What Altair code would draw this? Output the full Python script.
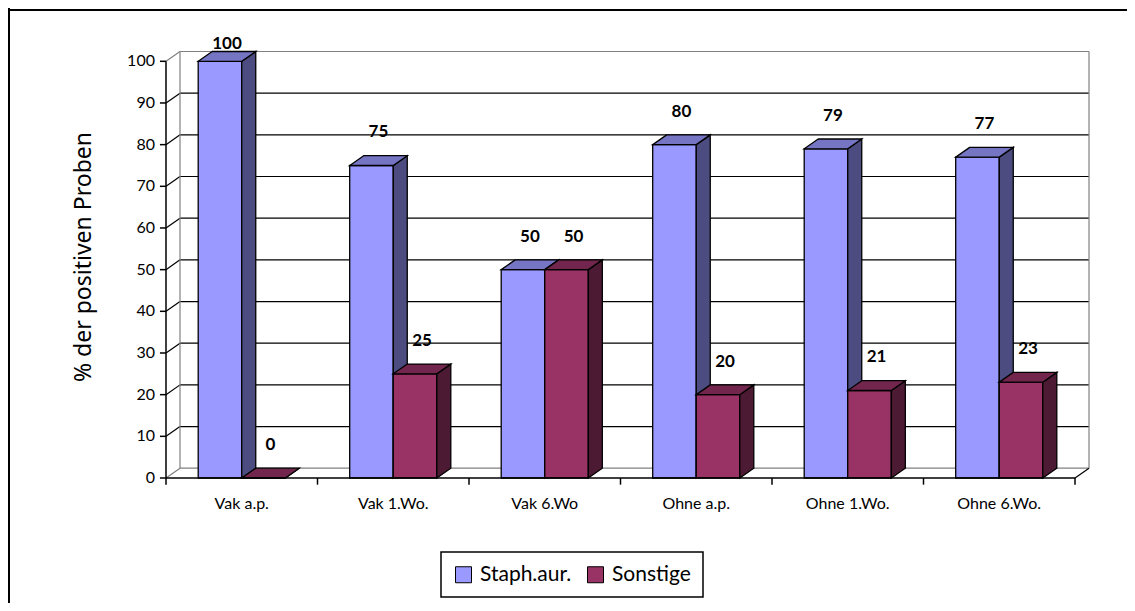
import altair as alt
import pandas as pd

# ---------------- data ----------------
categories = ["Vak a.p.", "Vak 1.Wo.", "Vak 6.Wo", "Ohne a.p.", "Ohne 1.Wo.", "Ohne 6.Wo."]
series = ["Staph.aur.", "Sonstige"]
staph = [100, 75, 50, 80, 79, 77]
sonstige = [0, 25, 50, 20, 21, 23]
y_ticks = [0, 10, 20, 30, 40, 50, 60, 70, 80, 90, 100]
y_title = "% der positiven Proben"

# ---------------- geometry (in data units) ----------------
GAP = 0.2125      # gap at left of a category
BW = 0.2875       # bar width
DX = 0.0924       # 3D depth, x units
DY = 2.35         # 3D depth, y units
NC = len(categories)
FONT = "Lato"

front_colors = ["#9999FF", "#993366"]
top_colors = ["#7575C4", "#73264D"]
side_colors = ["#4C4C80", "#4D1A33"]

bars, sides, tops, labels = [], [], [], []
for s_i, (sname, vals) in enumerate([(series[0], staph), (series[1], sonstige)]):
    for i, v in enumerate(vals):
        xl = i + GAP + s_i * BW
        xr = xl + BW
        bid = f"{s_i}-{i}"
        bars.append(dict(series=sname, s=s_i, xl=xl, xr=xr, v=v, y0=0))
        sides.append(dict(bid=bid, s=s_i, x=xr, y=v, y2=0))
        sides.append(dict(bid=bid, s=s_i, x=xr + DX, y=v + DY, y2=DY))
        tops.append(dict(bid=bid, s=s_i, y=v, x=xl, x2=xr))
        tops.append(dict(bid=bid, s=s_i, y=v + DY, x=xl + DX, x2=xr + DX))
        labels.append(dict(s=s_i, x=(xl + xr) / 2 + DX / 2, y=min(v, 96.3), t=str(v)))

bars = pd.DataFrame(bars)
sides = pd.DataFrame(sides)
tops = pd.DataFrame(tops)
labels = pd.DataFrame(labels)

grid = pd.DataFrame(dict(
    x=[DX] * len(y_ticks), x2=[NC + DX] * len(y_ticks),
    y=[t + DY for t in y_ticks],
    c=["edge" if t in (0, 100) else "line" for t in y_ticks]))
diag = pd.DataFrame(dict(
    x=[0] * len(y_ticks), x2=[DX] * len(y_ticks),
    y=y_ticks, y2=[t + DY for t in y_ticks],
    c=["edge" if t in (0, 100) else "line" for t in y_ticks]))
walls = pd.DataFrame(dict(x=[DX, NC + DX], y=[DY, DY], y2=[100 + DY, 100 + DY]))
floor_diag = pd.DataFrame(dict(x=[NC], x2=[NC + DX], y=[0], y2=[DY]))
yaxis = pd.DataFrame(dict(x=[0], y=[0], y2=[100]))
xaxis = pd.DataFrame(dict(x=[0], x2=[NC], y=[0]))
yticks_df = pd.DataFrame(dict(x=[-0.04] * len(y_ticks), x2=[0] * len(y_ticks),
                              y=y_ticks, t=[str(t) for t in y_ticks]))
xticks_df = pd.DataFrame(dict(x=list(range(NC + 1)), y=[-1.6] * (NC + 1), y2=[0] * (NC + 1)))
cats_df = pd.DataFrame(dict(x=[i + 0.5 for i in range(NC)], y=[0] * NC, t=categories))
one = pd.DataFrame(dict(t=[y_title]))

# ---------------- scales ----------------
XS = alt.Scale(domain=[0, NC], range=[158, 1067], nice=False, zero=False)
YS = alt.Scale(domain=[0, 100], range=[470, 53.3], nice=False, zero=False)


def X(f="x"):
    return alt.X(f"{f}:Q", scale=XS, axis=None, stack=None)


def Y(f="y"):
    return alt.Y(f"{f}:Q", scale=YS, axis=None, stack=None)


line_color = alt.Color("c:N", scale=alt.Scale(domain=["line", "edge"], range=["#000000", "#808080"]), legend=None)

layers = []
layers.append(alt.Chart(grid).mark_rule(strokeWidth=1.2).encode(x=X(), x2="x2:Q", y=Y(), color=line_color))
layers.append(alt.Chart(diag).mark_rule(strokeWidth=1.2).encode(x=X(), x2="x2:Q", y=Y(), y2="y2:Q", color=line_color))
layers.append(alt.Chart(walls).mark_rule(strokeWidth=1.2, color="#808080").encode(x=X(), y=Y(), y2="y2:Q"))
layers.append(alt.Chart(floor_diag).mark_rule(strokeWidth=1.2, color="#000000").encode(x=X(), x2="x2:Q", y=Y(), y2="y2:Q"))

fill_enc = alt.Fill("series:N", scale=alt.Scale(domain=series, range=front_colors),
                    legend=alt.Legend(title=None, orient="none", direction="horizontal",
                                      legendX=433, legendY=544))

for s_i in range(2):
    layers.append(alt.Chart(bars[bars.s == s_i]).mark_rect(stroke="black", strokeWidth=1.3).encode(
        x=X("xl"), x2="xr:Q", y=Y("v"), y2="y0:Q", fill=fill_enc))
    layers.append(alt.Chart(sides[sides.s == s_i]).mark_area(
        color=side_colors[s_i], stroke="black", strokeWidth=1.3, orient="vertical").encode(
        x=X(), y=Y(), y2="y2:Q", detail="bid:N"))
    layers.append(alt.Chart(tops[tops.s == s_i]).mark_area(
        color=top_colors[s_i], stroke="black", strokeWidth=1.3, orient="horizontal").encode(
        y=Y(), x=X(), x2="x2:Q", detail="bid:N"))

layers.append(alt.Chart(xaxis).mark_rule(strokeWidth=1.5, color="black").encode(x=X(), x2="x2:Q", y=Y()))
layers.append(alt.Chart(yaxis).mark_rule(strokeWidth=1.5, color="black").encode(x=X(), y=Y(), y2="y2:Q"))
layers.append(alt.Chart(yticks_df).mark_rule(strokeWidth=1.5, color="black").encode(x=X(), x2="x2:Q", y=Y()))
layers.append(alt.Chart(xticks_df).mark_rule(strokeWidth=1.5, color="black").encode(x=X(), y=Y(), y2="y2:Q"))

layers.append(alt.Chart(yticks_df).mark_text(font=FONT, fontSize=16, align="right", baseline="middle",
                                              dx=-5, color="black").encode(x=X(), y=Y(), text="t:N"))
layers.append(alt.Chart(cats_df).mark_text(font=FONT, fontSize=16, align="center", baseline="middle",
                                           dy=26, color="black").encode(x=X(), y=Y(), text="t:N"))
layers.append(alt.Chart(labels).mark_text(font=FONT, fontSize=17, fontWeight="bold", align="center",
                                          baseline="middle", dy=-33, color="black").encode(
    x=X(), y=Y(), text="t:N"))

layers.append(alt.Chart(one).mark_text(font="Noto Sans", fontSize=23, fontWeight="normal", angle=270,
                                       align="center", baseline="middle", color="black").encode(
    x=alt.value(76), y=alt.value(249), text="t:N"))

# frame (top and left edges)
layers.append(alt.Chart(one).mark_rule(color="black", strokeWidth=2).encode(
    x=alt.value(0), x2=alt.value(1119), y=alt.value(2)))
layers.append(alt.Chart(one).mark_rule(color="black", strokeWidth=2).encode(
    x=alt.value(1), y=alt.value(0), y2=alt.value(595)))

chart = alt.layer(*layers).properties(
    width=1119, height=595, padding=0, autosize=alt.AutoSizeParams(type="none")
).configure_view(stroke=None).configure_legend(
    strokeColor="black", strokeWidth=1.5, padding=12, labelFont=FONT, labelFontSize=21,
    labelColor="black", symbolType="square", symbolSize=256, symbolStrokeColor="black",
    symbolStrokeWidth=1, symbolOpacity=1, columnPadding=13, labelOffset=6, fillColor="white"
)

chart.save("out.html", embed_options={"renderer": "svg", "actions": False})
